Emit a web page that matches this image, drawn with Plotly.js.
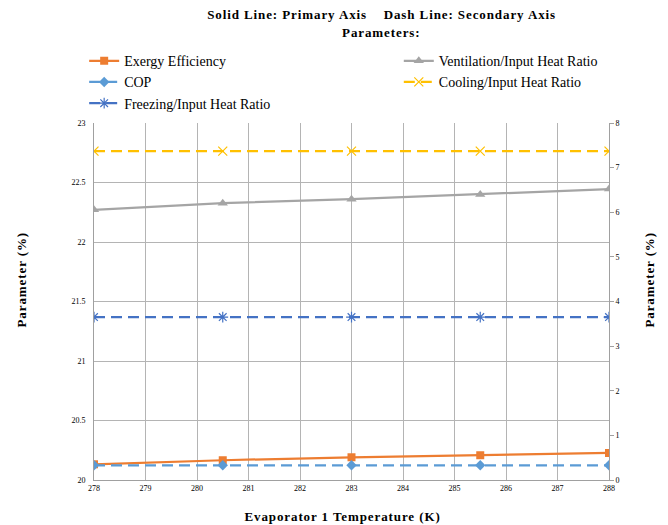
<!DOCTYPE html>
<html>
<head>
<meta charset="utf-8">
<script src="https://cdn.plot.ly/plotly-3.0.1.min.js"></script>
<style>
html,body{margin:0;padding:0;background:#fff;}
#chart{width:668px;height:525px;}
#chart .annotation-text{letter-spacing:0.9px;}
</style>
</head>
<body>
<div id="chart"></div>
<script>
const temperature = [278, 280.5, 283, 285.5, 288];
const exergyEfficiency = [20.132, 20.166, 20.191, 20.208, 20.227];
const ventilationRatio = [22.27, 22.326, 22.36, 22.40, 22.445];
const cop = [0.33, 0.33, 0.33, 0.33, 0.33];
const coolingRatio = [7.37, 7.37, 7.37, 7.37, 7.37];
const freezingRatio = [3.65, 3.65, 3.65, 3.65, 3.65];

const serif = "Liberation Serif, Times New Roman, serif";
const dash = "11px,6px";

const traces = [
  {x: temperature, y: exergyEfficiency, name: "Exergy Efficiency", yaxis: "y", mode: "lines+markers", legend: "legend",
   line: {color: "#ED7D31", width: 2.25}, marker: {symbol: "square", size: 8, color: "#ED7D31"}},
  {x: temperature, y: ventilationRatio, name: "Ventilation/Input Heat Ratio", yaxis: "y", mode: "lines+markers", legend: "legend2",
   line: {color: "#A5A5A5", width: 2.25}, marker: {symbol: "triangle-up", size: 9, color: "#A5A5A5"}},
  {x: temperature, y: cop, name: "COP", yaxis: "y2", mode: "lines+markers", legend: "legend",
   line: {color: "#5B9BD5", width: 2.25, dash: dash}, marker: {symbol: "diamond", size: 8, color: "#5B9BD5"}},
  {x: temperature, y: coolingRatio, name: "Cooling/Input Heat Ratio", yaxis: "y2", mode: "lines+markers", legend: "legend2",
   line: {color: "#FFC000", width: 2.25, dash: dash}, marker: {symbol: "x-thin-open", size: 9, color: "#FFC000", line: {width: 1.2, color: "#FFC000"}}},
  {x: temperature, y: freezingRatio, name: "Freezing/Input Heat Ratio", yaxis: "y2", mode: "lines+markers", legend: "legend",
   line: {color: "#4472C4", width: 2.25, dash: dash}, marker: {symbol: "asterisk-open", size: 9, color: "#4472C4", line: {width: 1.2, color: "#4472C4"}}}
];

const legendCommon = {orientation: "v", xref: "container", yref: "container", xanchor: "left", y: 0.914, yanchor: "top",
  traceorder: "normal", font: {size: 14, family: serif}, tracegroupgap: 0, itemwidth: 30, bgcolor: "rgba(0,0,0,0)"};

const layout = {
  width: 668, height: 525,
  margin: {l: 94, r: 59, t: 123, b: 45, autoexpand: false},
  paper_bgcolor: "#fff", plot_bgcolor: "#fff",
  font: {family: serif, color: "#000"},
  showlegend: true,
  legend: Object.assign({}, legendCommon, {x: 0.126}),
  legend2: Object.assign({}, legendCommon, {x: 0.597}),
  xaxis: {range: [278, 288], dtick: 1, tick0: 278, showgrid: true, gridcolor: "#B4B4B4", gridwidth: 1,
          showline: true, linecolor: "#A0A0A0", linewidth: 1, zeroline: false, ticks: "",
          tickfont: {size: 8, family: serif, color: "#000"}},
  yaxis: {range: [20, 23], dtick: 0.5, showgrid: true, gridcolor: "#B4B4B4", gridwidth: 1,
          showline: true, linecolor: "#A0A0A0", linewidth: 1, zeroline: false, ticks: "",
          tickfont: {size: 8, family: serif, color: "#000"}, ticklabelstandoff: 6},
  yaxis2: {range: [0, 8], dtick: 1, overlaying: "y", side: "right", showgrid: false,
           showline: true, linecolor: "#A0A0A0", linewidth: 1, zeroline: false, ticks: "outside",
           ticklen: 4, tickcolor: "#A0A0A0", tickfont: {size: 8, family: serif, color: "#000"}},
  annotations: [
    {text: "<b>Solid Line: Primary Axis    Dash Line: Secondary Axis</b>", xref: "paper", yref: "paper",
     x: 0.559, y: 1.3036, showarrow: false, font: {size: 13, family: serif}, xanchor: "center", yanchor: "middle"},
    {text: "<b>Parameters:</b>", xref: "paper", yref: "paper",
     x: 0.559, y: 1.253, showarrow: false, font: {size: 13, family: serif}, xanchor: "center", yanchor: "middle"},
    {text: "<b>Parameter (%)</b>", xref: "paper", yref: "paper", x: -0.14, y: 0.561, textangle: -90,
     showarrow: false, font: {size: 13, family: serif}, xanchor: "center", yanchor: "middle"},
    {text: "<b>Parameter (%)</b>", xref: "paper", yref: "paper", x: 1.0796, y: 0.561, textangle: -90,
     showarrow: false, font: {size: 13, family: serif}, xanchor: "center", yanchor: "middle"},
    {text: "<b>Evaporator 1 Temperature (K)</b>", xref: "paper", yref: "paper", x: 0.4816, y: -0.101,
     showarrow: false, font: {size: 13, family: serif}, xanchor: "center", yanchor: "middle"}
  ]
};

Plotly.newPlot("chart", traces, layout, {displayModeBar: false, staticPlot: true});
</script>
</body>
</html>
